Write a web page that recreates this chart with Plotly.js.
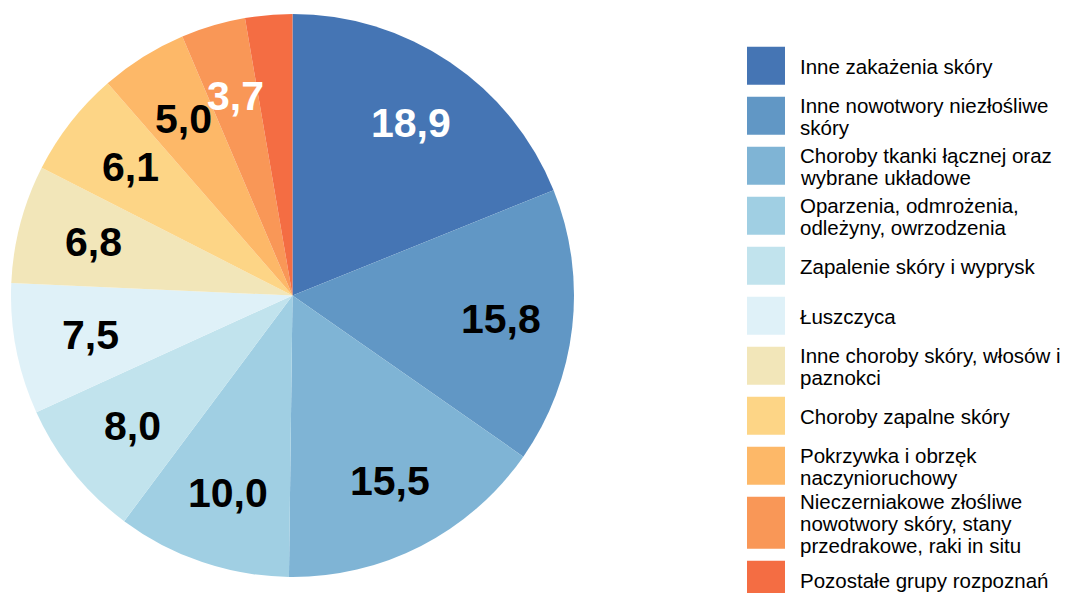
<!DOCTYPE html>
<html><head><meta charset="utf-8">
<script src="https://cdn.plot.ly/plotly-3.0.1.min.js"></script>
<style>html,body{margin:0;padding:0;background:#fff}#chart{width:1069px;height:593px}</style>
</head><body><div id="chart"></div>
<script>
const categories = [
  "Inne zakażenia skóry",
  "Inne nowotwory niezłośliwe<br>skóry",
  "Choroby tkanki łącznej oraz<br>wybrane układowe",
  "Oparzenia, odmrożenia,<br>odleżyny, owrzodzenia",
  "Zapalenie skóry i wyprysk",
  "Łuszczyca",
  "Inne choroby skóry, włosów i<br>paznokci",
  "Choroby zapalne skóry",
  "Pokrzywka i obrzęk<br>naczynioruchowy",
  "Nieczerniakowe złośliwe<br>nowotwory skóry, stany<br>przedrakowe, raki in situ",
  "Pozostałe grupy rozpoznań"
];
const values = [18.9, 15.8, 15.5, 10.0, 8.0, 7.5, 6.8, 6.1, 5.0, 3.7, 2.7];
const valueLabels = ["18,9", "15,8", "15,5", "10,0", "8,0", "7,5", "6,8", "6,1", "5,0", "3,7", ""];
const colors = ["#4575B4","#6197C5","#7FB4D5","#A0CFE3","#C1E3ED","#DFF1F8","#F2E6B9","#FDD586","#FDB868","#F99757","#F46D43"];
const labelColors = ["#FFFFFF","#000000","#000000","#000000","#000000","#000000","#000000","#000000","#000000","#FFFFFF","#000000"];

(function () {
const W = 1069, H = 593;
const cx = 292.5, cy = 295.5, R = 281.5;
const font = "Liberation Sans, Arial, sans-serif";

const trace = {
  type: "pie",
  labels: categories,
  values: values,
  sort: false,
  direction: "clockwise",
  rotation: 0,
  textinfo: "none",
  hoverinfo: "label+value",
  marker: {colors: colors, line: {width: 0}},
  domain: {x: [(cx - R) / W, (cx + R) / W], y: [1 - (cy + R) / H, 1 - (cy - R) / H]},
  showlegend: false
};

const total = values.reduce((a, b) => a + b, 0);
const annotations = [];
const shapes = [];
let cum = 0;
values.forEach((v, i) => {
  const mid = (cum + v / 2) / total * 2 * Math.PI;
  cum += v;
  if (!valueLabels[i]) return;
  const r = 0.74 * R;
  annotations.push({
    xref: "paper", yref: "paper",
    x: (cx + 2 + r * Math.sin(mid)) / W,
    y: 1 - (cy - r * Math.cos(mid)) / H,
    text: "<b>" + valueLabels[i] + "</b>",
    showarrow: false, xanchor: "center", yanchor: "middle",
    font: {family: font, size: 41, color: labelColors[i]}
  });
});

// legend
let yTop = 46.7;
const lineGap = 22;
categories.forEach((c, i) => {
  const lines = c.split("<br>");
  const h = lines.length >= 3 ? 52 : 38;
  shapes.push({type: "rect", xref: "paper", yref: "paper",
    x0: 747 / W, x1: 785 / W, y0: 1 - yTop / H, y1: 1 - (yTop + h) / H,
    fillcolor: colors[i], line: {width: 0}});
  const mid = yTop + h / 2;
  lines.forEach((ln, k) => {
    const yc = mid + (k - (lines.length - 1) / 2) * lineGap + 1;
    annotations.push({xref: "paper", yref: "paper", x: 798 / W, y: 1 - yc / H,
      text: ln, showarrow: false, xanchor: "left", yanchor: "middle", align: "left",
      font: {family: font, size: 20.5, color: "#000000"}});
  });
  yTop += h + 12;
});

Plotly.newPlot("chart", [trace], {
  width: W, height: H,
  margin: {l: 0, r: 0, t: 0, b: 0},
  paper_bgcolor: "#FFFFFF",
  showlegend: false,
  annotations: annotations,
  shapes: shapes
}, {displayModeBar: false, staticPlot: true});
})();
</script></body></html>
